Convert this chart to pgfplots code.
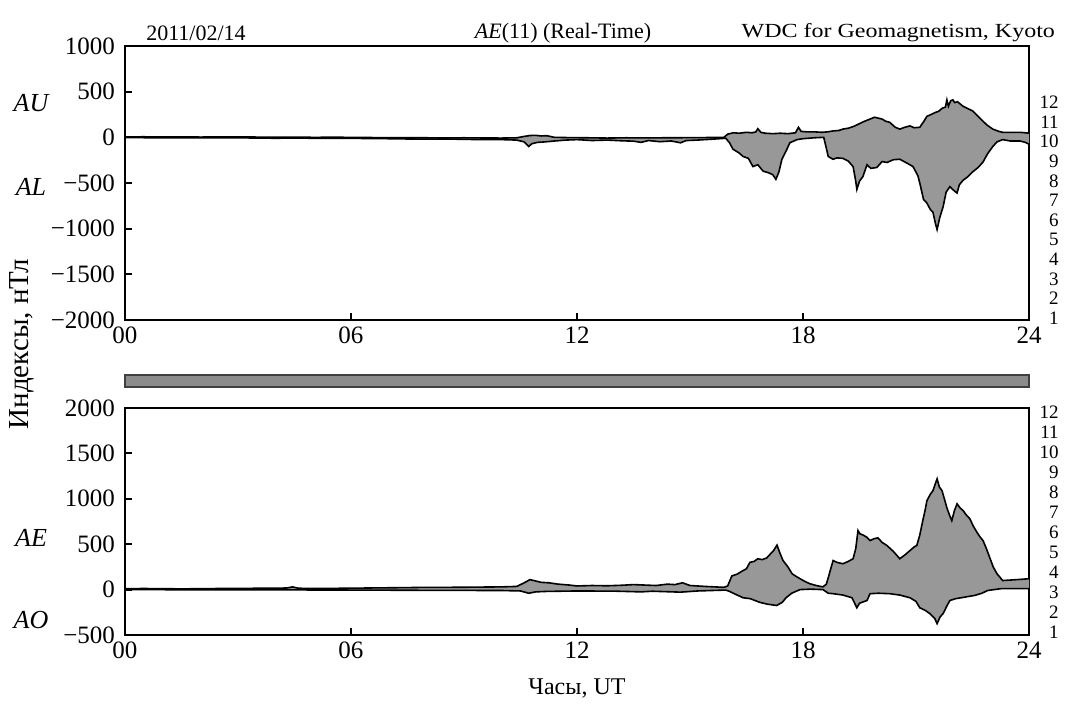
\documentclass[border=0pt]{standalone}
\usepackage{pgfplots}
\pgfplotsset{compat=1.18}
\usepgfplotslibrary{fillbetween}
\usepackage{fontspec}
\setmainfont{Liberation Serif}
\definecolor{areagray}{RGB}{152,152,152}
\definecolor{bargray}{RGB}{140,140,140}

\pgfplotsset{
  panel/.style={
    scale only axis, set layers,
    width=452pt,
    xmin=0, xmax=24,
    xtick={0,6,12,18,24},
    xticklabels={00,06,12,18,24},
    axis line style={line width=1.2pt},
    tick style={black, line width=1pt},
    tick align=inside,
    xtick pos=bottom, ytick pos=left,
    major tick length=3.5pt,
    tick label style={font=\fontsize{12.5}{14}\selectfont},
    yticklabel style={xshift=-1.5pt},
  },
  env/.style={black, line width=0.8pt},
}

\begin{document}
\begin{tikzpicture}

% AU / AL
\begin{axis}[panel, name=top, at={(0,0)}, anchor=north west,
    height=137pt, ymin=-2000, ymax=1000,
    ytick={-2000,-1500,-1000,-500,0,500,1000},
    yticklabels={−2000,−1500,−1000,−500,0,500,1000}]
  \addplot[env, name path=au] coordinates {
    (0,5) (0.5,6) (1,4) (1.5,5) (2,3) (2.5,4) (3,5) (3.5,3) (4,2) (4.5,3)
    (5,0) (5.5,1) (6,0) (6.5,-2) (7,-5) (7.5,-4) (8,-5) (8.5,-6) (9,-5)
    (9.5,-7) (10,-8) (10.4,-5) (10.6,10) (10.75,20) (10.9,22) (11.05,15)
    (11.2,18) (11.4,0) (11.8,-3) (12.3,-5) (12.8,-8) (13.3,-5) (13.8,-6)
    (14.3,-5) (14.8,-4) (15.3,-3) (15.9,0)
    (16.0,35) (16.15,50) (16.3,45) (16.5,55) (16.65,50) (16.75,60) (16.8,95)
    (16.88,55) (17.0,45) (17.2,40) (17.4,45) (17.6,40) (17.8,50) (17.88,110)
    (17.95,65) (18.1,60) (18.3,60) (18.5,55) (18.65,60) (18.8,70) (18.95,75)
    (19.06,90) (19.2,100) (19.35,120) (19.5,150) (19.6,170) (19.75,195)
    (19.9,220) (20.0,210) (20.1,200) (20.2,175) (20.3,165) (20.45,110)
    (20.57,90) (20.7,110) (20.84,125) (20.95,105) (21.1,110) (21.2,170)
    (21.29,230) (21.4,250) (21.5,270) (21.6,285) (21.7,320) (21.78,330)
    (21.82,410) (21.86,340) (21.92,400) (21.98,410) (22.03,380) (22.1,390)
    (22.25,340) (22.4,310) (22.5,290) (22.65,230) (22.78,175) (22.9,130)
    (23.04,90) (23.2,65) (23.3,55) (23.5,55) (23.76,55) (23.9,50) (24,45)
  };
  \addplot[env, name path=al] coordinates {
    (0,-3) (0.5,-4) (1,-5) (1.5,-4) (2,-5) (2.5,-6) (3,-5) (3.5,-8) (4,-10)
    (4.5,-8) (5,-10) (5.5,-12) (6,-10) (6.5,-14) (7,-15) (7.5,-18) (8,-20)
    (8.5,-18) (9,-22) (9.5,-25) (10,-25) (10.4,-30) (10.6,-50) (10.72,-100)
    (10.8,-70) (10.95,-55) (11.15,-50) (11.4,-40) (11.7,-30) (12,-25)
    (12.4,-35) (12.8,-30) (13.2,-38) (13.5,-42) (13.7,-55) (13.9,-35)
    (14.2,-48) (14.5,-40) (14.75,-60) (14.9,-35) (15.2,-30) (15.6,-20)
    (15.95,-10)
    (16.05,-60) (16.14,-130) (16.3,-170) (16.41,-210) (16.55,-230)
    (16.67,-320) (16.8,-300) (16.94,-370) (17.1,-390) (17.2,-410)
    (17.28,-460) (17.36,-380) (17.44,-240) (17.55,-150) (17.65,-60)
    (17.84,-25) (18.0,-15) (18.3,-5) (18.55,0) (18.62,-120) (18.67,-210)
    (18.8,-240) (18.9,-225) (19.06,-230) (19.2,-260) (19.33,-320)
    (19.4,-480) (19.43,-570) (19.5,-480) (19.59,-430) (19.7,-300)
    (19.8,-340) (19.96,-330) (20.1,-265) (20.23,-275) (20.4,-245)
    (20.57,-240) (20.75,-280) (20.92,-320) (21.05,-420) (21.1,-500)
    (21.2,-680) (21.29,-720) (21.38,-790) (21.45,-820) (21.52,-950)
    (21.56,-1010) (21.63,-880) (21.72,-760) (21.8,-600) (21.9,-540)
    (22.0,-580) (22.09,-610) (22.15,-520) (22.25,-470) (22.38,-430)
    (22.5,-380) (22.65,-330) (22.78,-270) (22.9,-180) (23.04,-100)
    (23.15,-50) (23.3,-25) (23.5,-40) (23.76,-40) (23.9,-55) (24,-75)
  };
  \addplot[areagray] fill between[of=au and al];
\end{axis}

% AE / AO
\begin{axis}[panel, name=bot, at={(0,-181pt)}, anchor=north west,
    height=113.5pt, ymin=-500, ymax=2000,
    ytick={-500,0,500,1000,1500,2000},
    yticklabels={−500,0,500,1000,1500,2000}]
  \addplot[env, name path=ae] coordinates {
    (0,10) (0.5,12) (1,10) (1.5,8) (2,10) (2.5,12) (3,12) (3.5,15) (4,15)
    (4.3,18) (4.45,30) (4.6,15) (5,12) (5.5,14) (6,15) (6.5,18) (7,20)
    (7.5,22) (8,25) (8.5,25) (9,26) (9.5,28) (10,30) (10.4,35) (10.6,75)
    (10.75,110) (10.9,95) (11.05,80) (11.25,75) (11.5,60) (11.8,50) (12,40)
    (12.4,45) (12.8,42) (13.2,48) (13.5,55) (13.8,50) (14.1,45) (14.4,60)
    (14.6,55) (14.8,75) (15.0,45) (15.4,35) (15.9,25)
    (16.0,40) (16.11,150) (16.25,170) (16.41,210) (16.5,230) (16.59,300)
    (16.7,310) (16.8,340) (16.92,330) (17.04,350) (17.15,400) (17.22,430)
    (17.31,490) (17.38,410) (17.47,320) (17.6,250) (17.71,175) (17.8,150)
    (17.92,120) (18.05,90) (18.18,65) (18.35,45) (18.53,30) (18.62,60)
    (18.67,130) (18.75,250) (18.8,320) (18.9,300) (19.06,285) (19.2,310)
    (19.33,340) (19.4,450) (19.46,650) (19.51,615) (19.6,600) (19.7,575)
    (19.78,540) (19.88,560) (19.99,570) (20.1,520) (20.23,485) (20.4,420)
    (20.57,340) (20.7,380) (20.84,430) (20.95,470) (21.02,485) (21.1,600)
    (21.18,760) (21.24,870) (21.29,980) (21.38,1050) (21.45,1090)
    (21.5,1150) (21.56,1220) (21.62,1130) (21.69,1090) (21.76,990)
    (21.82,900) (21.89,820) (21.95,760) (22.02,870) (22.09,945) (22.17,900)
    (22.25,870) (22.34,820) (22.43,780) (22.52,700) (22.62,630) (22.7,580)
    (22.78,540) (22.87,450) (22.96,350) (23.05,250) (23.15,175) (23.3,100)
    (23.5,105) (23.68,110) (23.85,115) (24,120)
  };
  \addplot[env, name path=ao] coordinates {
    (0,0) (2,-2) (4,-3) (6,-5) (8,-8) (10,-10) (10.5,-15) (10.72,-40)
    (10.9,-25) (11.2,-20) (12,-15) (13,-17) (13.7,-25) (14,-18) (14.75,-28)
    (15.2,-15) (15.95,-5)
    (16.05,-20) (16.2,-50) (16.41,-90) (16.6,-100) (16.85,-140) (17.05,-160)
    (17.3,-175) (17.45,-140) (17.55,-90) (17.7,-40) (17.92,0) (18.2,5)
    (18.53,0) (18.67,-40) (18.8,-45) (19.06,-60) (19.3,-90) (19.43,-200)
    (19.5,-150) (19.7,-120) (19.78,-45) (20.0,-40) (20.3,-45) (20.57,-60)
    (20.84,-90) (21.0,-130) (21.1,-200) (21.25,-230) (21.37,-265)
    (21.5,-320) (21.56,-375) (21.64,-300) (21.72,-265) (21.82,-180)
    (21.9,-120) (22.05,-100) (22.2,-90) (22.4,-75) (22.55,-65) (22.75,-40)
    (22.9,-10) (23.25,10) (23.68,10) (24,10)
  };
  \addplot[areagray] fill between[of=ae and ao];
\end{axis}

% separator bar
\draw[fill=bargray, draw=black!75, line width=0.8pt]
  (0,-164.5pt) rectangle (452pt,-170.5pt);

% header
\node[font=\fontsize{11}{13}\selectfont] at (35.5pt,6.5pt) {2011/02/14};
\node[font=\fontsize{11}{13}\selectfont] at (219pt,6.5pt) {\textit{AE}(11) (Real-Time)};
\node[font=\fontsize{10}{12}\selectfont, anchor=east] at (468.5pt,6.5pt)
  {\scalebox{1.2}[1]{WDC for Geomagnetism, Kyoto}};

% index names
\node[font=\fontsize{13}{15}\selectfont\itshape] at (-47pt,-28.5pt) {AU};
\node[font=\fontsize{13}{15}\selectfont\itshape] at (-47pt,-70.5pt) {AL};
\node[font=\fontsize{13}{15}\selectfont\itshape] at (-47pt,-246pt) {AE};
\node[font=\fontsize{13}{15}\selectfont\itshape] at (-47pt,-287pt) {AO};

% axis titles
\node[font=\fontsize{14.5}{16}\selectfont, rotate=90] at (-51.5pt,-149pt) {Индексы, нТл};
\node[font=\fontsize{12}{14}\selectfont] at (226pt,-321pt) {Часы, UT};

% station count scales
\foreach \k in {1,...,12} {
  \pgfmathsetmacro\yt{-(272-(\k-1)*19.6)*0.5}
  \pgfmathsetmacro\yb{-(586-(\k-1)*20)*0.5}
  \node[font=\fontsize{9.5}{10}\selectfont, anchor=east, inner sep=0pt] at (467pt,\yt pt) {\k};
  \node[font=\fontsize{9.5}{10}\selectfont, anchor=east, inner sep=0pt] at (467pt,\yb pt) {\k};
}

% page extent
\path (-62.5pt,23pt) rectangle (471pt,-328pt);
\end{tikzpicture}
\end{document}
